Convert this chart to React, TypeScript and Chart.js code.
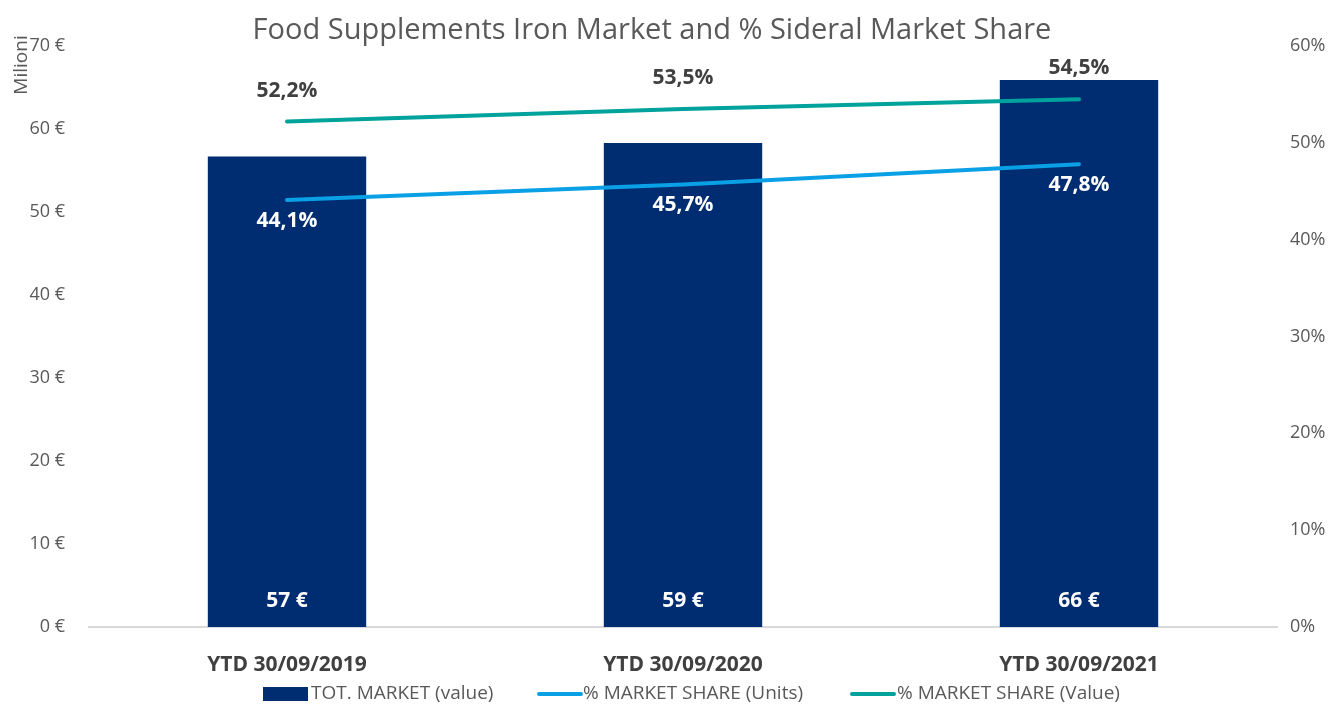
import React, { useEffect, useRef } from "react";
import { Chart, registerables } from "chart.js";

Chart.register(...registerables);

const categories = ["YTD 30/09/2019", "YTD 30/09/2020", "YTD 30/09/2021"];
const totMarket = [56.7, 58.3, 65.9];
const totMarketLabels = ["57 €", "59 €", "66 €"];
const shareUnits = [44.1, 45.7, 47.8];
const shareValue = [52.2, 53.5, 54.5];
const leftTicks = [0, 10, 20, 30, 40, 50, 60, 70];
const rightTicks = [0, 10, 20, 30, 40, 50, 60];

const TITLE = "Food Supplements Iron Market and % Sideral Market Share";
const FONT = "'Open Sans', Roboto, sans-serif";
const NAVY = "#002D72";
const BLUE = "#0AA0E6";
const TEAL = "#00A39B";
const GRAY = "#595959";
const DARK = "#404040";

const fmtPct = (v: number) => v.toFixed(1).replace(".", ",") + "%";

const overlay = {
  id: "overlay",
  afterDatasetsDraw(chart: any) {
    const ctx = chart.ctx;
    ctx.save();
    const barMeta = chart.getDatasetMeta(0);
    ctx.font = `bold 21px ${FONT}`;
    ctx.textAlign = "center";
    ctx.textBaseline = "middle";
    ctx.fillStyle = "#ffffff";
    barMeta.data.forEach((el: any, i: number) => {
      ctx.fillText(totMarketLabels[i], el.x, chart.chartArea.bottom - 26);
    });
    const uMeta = chart.getDatasetMeta(1);
    uMeta.data.forEach((el: any, i: number) => {
      ctx.fillStyle = "#ffffff";
      ctx.fillText(fmtPct(shareUnits[i]), el.x, el.y + 21);
    });
    const vMeta = chart.getDatasetMeta(2);
    vMeta.data.forEach((el: any, i: number) => {
      ctx.fillStyle = DARK;
      ctx.fillText(fmtPct(shareValue[i]), el.x, el.y - 31);
    });
    ctx.restore();
  },
  afterDraw(chart: any) {
    const ctx = chart.ctx;
    ctx.save();
    ctx.font = `29px ${FONT}`;
    ctx.fillStyle = GRAY;
    ctx.textAlign = "center";
    ctx.textBaseline = "middle";
    ctx.fillText(TITLE, 652, 31);
    ctx.save();
    ctx.translate(22, 65);
    ctx.rotate(-Math.PI / 2);
    ctx.font = `19px ${FONT}`;
    ctx.fillText("Milioni", 0, 0);
    ctx.restore();
    const y = 694;
    ctx.font = `19px ${FONT}`;
    ctx.textAlign = "left";
    ctx.fillStyle = NAVY;
    ctx.fillRect(263, y - 7, 45, 14);
    ctx.fillStyle = GRAY;
    ctx.fillText(chart.data.datasets[0].label, 311, y);
    ctx.lineCap = "round";
    ctx.lineWidth = 4;
    ctx.strokeStyle = BLUE;
    ctx.beginPath();
    ctx.moveTo(539, y);
    ctx.lineTo(581, y);
    ctx.stroke();
    ctx.fillText(chart.data.datasets[1].label, 583, y);
    ctx.strokeStyle = TEAL;
    ctx.beginPath();
    ctx.moveTo(852, y);
    ctx.lineTo(894, y);
    ctx.stroke();
    ctx.fillText(chart.data.datasets[2].label, 897, y);
    ctx.restore();
  },
};

export default function App() {
  const ref = useRef<HTMLCanvasElement | null>(null);
  useEffect(() => {
    if (!ref.current) return;
    const chart = new Chart(ref.current, {
      type: "bar",
      data: {
        labels: categories,
        datasets: [
          {
            type: "bar",
            label: "TOT. MARKET (value)",
            data: totMarket,
            backgroundColor: NAVY,
            yAxisID: "y",
            barPercentage: 0.8,
            categoryPercentage: 0.5,
            order: 3,
          },
          {
            type: "line",
            label: "% MARKET SHARE (Units)",
            data: shareUnits,
            borderColor: BLUE,
            backgroundColor: BLUE,
            borderWidth: 4,
            pointRadius: 0,
            borderCapStyle: "round",
            yAxisID: "y1",
            order: 1,
          },
          {
            type: "line",
            label: "% MARKET SHARE (Value)",
            data: shareValue,
            borderColor: TEAL,
            backgroundColor: TEAL,
            borderWidth: 4,
            pointRadius: 0,
            borderCapStyle: "round",
            yAxisID: "y1",
            order: 2,
          },
        ] as any,
      },
      options: {
        animation: false,
        responsive: true,
        maintainAspectRatio: false,
        layout: { padding: { top: 46, bottom: 0, left: 0, right: 0 } },
        plugins: {
          legend: { display: false },
          title: { display: false },
          tooltip: { enabled: false },
        },
        scales: {
          x: {
            grid: { display: false, drawTicks: false },
            border: { display: true, color: "#D9D9D9", width: 2 },
            ticks: {
              color: DARK,
              font: { family: FONT, size: 21, weight: "bold" },
              padding: 25,
            },
            afterFit: (s: any) => {
              s.height = 80;
            },
          },
          y: {
            position: "left",
            min: 0,
            max: 70,
            afterBuildTicks: (s: any) => {
              s.ticks = leftTicks.map((v) => ({ value: v }));
            },
            grid: { display: false, drawTicks: false },
            border: { display: false },
            ticks: {
              color: GRAY,
              font: { family: FONT, size: 18 },
              padding: 24,
              callback: (v: any) => `${v} €`,
            },
            afterFit: (s: any) => {
              s.width = 89;
            },
          },
          y1: {
            position: "right",
            min: 0,
            max: 60,
            afterBuildTicks: (s: any) => {
              s.ticks = rightTicks.map((v) => ({ value: v }));
            },
            grid: { display: false, drawTicks: false },
            border: { display: false },
            ticks: {
              color: GRAY,
              font: { family: FONT, size: 18 },
              padding: 13,
              callback: (v: any) => `${v}%`,
            },
            afterFit: (s: any) => {
              s.width = 61;
            },
          },
        },
      } as any,
      plugins: [overlay],
    });
    return () => chart.destroy();
  }, []);
  return (
    <div style={{ position: "fixed", left: 0, top: 0, width: 1338, height: 707, background: "#fff" }}>
      <canvas ref={ref} />
    </div>
  );
}
